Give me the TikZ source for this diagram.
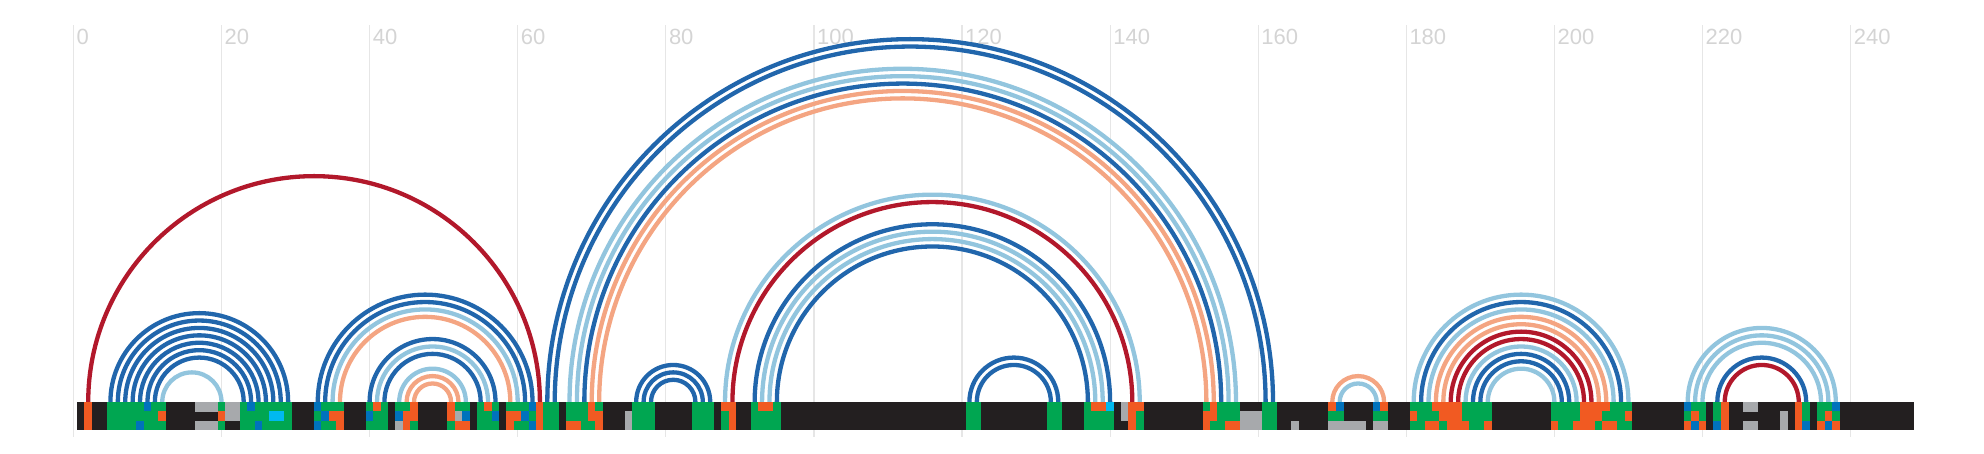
\documentclass[tikz,border=0pt]{standalone}
\usepackage{fontspec}
\setmainfont{Liberation Sans}
\definecolor{cK}{HTML}{231F20}
\definecolor{cG}{HTML}{00A651}
\definecolor{cO}{HTML}{F15A22}
\definecolor{cB}{HTML}{0072BC}
\definecolor{cA}{HTML}{A7A9AC}
\definecolor{cC}{HTML}{00B9F1}
\definecolor{aDB}{HTML}{2166AC}
\definecolor{aLB}{HTML}{92C5DE}
\definecolor{aSA}{HTML}{F4A582}
\definecolor{aRD}{HTML}{B2182B}
\definecolor{gridc}{HTML}{E6E6E6}
\definecolor{labc}{HTML}{D4D4D4}
\newcount\colidx
\def\rowtop{52}
\def\drawcell#1{\if#1K\else\fill[c#1] ({69.55+7.405*\the\colidx},\rowtop) rectangle ++(7.705,-9.6);\fi}
\def\parsechar#1{\ifx#1\relax\else\advance\colidx by 1\relax\drawcell{#1}\expandafter\parsechar\fi}
\def\barrow#1#2{\def\rowtop{#1}\colidx=0\relax\parsechar#2\relax}
\newcommand\arcpair[3]{\draw[#1] ({73.4+7.405*#2},52) arc[start angle=180,end angle=0,radius={3.7025*(#3-#2)}];}
\tikzset{
  gridline/.style={draw=gridc,line width=1.2pt},
  ticklbl/.style={text=labc,anchor=base west,inner sep=0pt,font=\fontsize{22}{22}\selectfont},
  arcbase/.style={line width=4.3pt},
  DB/.style={arcbase,draw=aDB},
  LB/.style={arcbase,draw=aLB},
  SA/.style={arcbase,draw=aSA},
  RD/.style={arcbase,draw=aRD},
}
\begin{document}
\begin{tikzpicture}[x=1pt,y=1pt]
\useasboundingbox (0,0) rectangle (1984,454);
% grid and labels
\foreach \k [evaluate=\k as \v using int(20*\k)] in {0,...,12} {
  \draw[gridline] ({73.4+148.1*\k},17) -- ({73.4+148.1*\k},429);
  \node[ticklbl] (lab\k) at ({76.4+148.1*\k},409.5) {\v};
}
% arcs: group 1
\arcpair{RD}{2}{63}
% group 2
\arcpair{DB}{5}{29}
\arcpair{DB}{6}{28}
\arcpair{DB}{7}{27}
\arcpair{DB}{8}{26}
\arcpair{DB}{9}{25}
\arcpair{DB}{10}{24}
\arcpair{DB}{11}{23}
\arcpair{LB}{12}{20}
% group 3
\arcpair{DB}{33}{62}
\arcpair{DB}{34}{61}
\arcpair{LB}{35}{60}
\arcpair{SA}{36}{59}
\arcpair{DB}{40}{57}
\arcpair{LB}{41}{56}
\arcpair{DB}{42}{55}
\arcpair{LB}{44}{53}
\arcpair{SA}{45}{52}
\arcpair{SA}{46}{51}
% group 4
\arcpair{DB}{64}{162}
\arcpair{DB}{65}{161}
\arcpair{LB}{67}{157}
\arcpair{LB}{68}{156}
\arcpair{DB}{69}{155}
\arcpair{SA}{70}{154}
\arcpair{SA}{71}{153}
% group 5
\arcpair{LB}{88}{144}
\arcpair{RD}{89}{143}
\arcpair{DB}{92}{140}
\arcpair{LB}{93}{139}
\arcpair{LB}{94}{138}
\arcpair{DB}{95}{137}
% group 6
\arcpair{DB}{76}{86}
\arcpair{DB}{77}{85}
\arcpair{DB}{78}{84}
% group 7
\arcpair{DB}{121}{133}
\arcpair{DB}{122}{132}
% group 8
\arcpair{SA}{170}{177}
\arcpair{LB}{171}{176}
% group 9
\arcpair{LB}{181}{210}
\arcpair{DB}{182}{209}
\arcpair{LB}{183}{208}
\arcpair{SA}{184}{207}
\arcpair{SA}{185}{206}
\arcpair{RD}{186}{205}
\arcpair{RD}{187}{204}
\arcpair{LB}{188}{203}
\arcpair{DB}{189}{202}
\arcpair{DB}{190}{201}
\arcpair{LB}{191}{200}
% group 10
\arcpair{LB}{218}{238}
\arcpair{LB}{219}{237}
\arcpair{LB}{220}{236}
\arcpair{DB}{222}{234}
\arcpair{RD}{223}{233}
% bar
\fill[cK] (77.1,24) rectangle (1913.6,52);
\begin{scope}
\clip (77.1,24) rectangle (1913.6,52);
\barrow{52}{KOKKGGGGGB GGKKKKAAAG AAGBGGGGGK KKBGGGKKKG OGKGGOKKKK OGGKGOGKGG GBOGGKGGGO GKKKKGGGKK KKKGGGKOOK KGOOGKKKKK KKKKKKKKKK KKKKKKKKKK GGKKKKKKKK KGGKKKGOOC KAOOKKKKKK KKGOGGGKKK GGKKKKKKKO BKKKKBOKKK GGGOOOOGGG GKKKKKKKKG GGGOOOOGGG KKKKKKKBGG KGOKKAAKKK KKOGKGGBKK KKKKKKKK}
\barrow{42.667}{KOKKGGGGGG GOKKKKKKKO AAGGGGCCGK KKGBOOKKKB GGKBOOKKKK OABKGGBKOO BGOGGKGGGO OKKKAGGGKK KKKGGGKGOK KGGGGKKKKK KKKKKKKKKK KKKKKKKKKK GGKKKKKKKK KGGKKKGGGG KAOGKKKKKK KKOOGGGAAA GGKKKKKKKG GKKKKGGKKK OGGGOOOGGG GKKKKKKKKG GGGOOOGGGO KKKKKKKGOG KGOKKKKKKK AKOGKGOGKK KKKKKKKK}
\barrow{33.333}{KOKKGGGGBG GGKKKKAAAG KKGGBGGGGK KKBGGOKKKG GGKAOGKKKK GOOKGGGKOG GBOGGKOOGG OKKKAGGGKK KKKGGGKGOK KGGGGKKKKK KKKKKKKKKK KKKKKKKKKK GGKKKKKKKK KGGKKKGGGG KKOGKKKKKK KKOGGOOAAA GGKKAKKKKA AAAAKAAKKK GGOOGOOOGG OKKKKKKKKO GGOOOGOOGG KKKKKKKOBO KBOKKAAKKK AKOBKOBOKK KKKKKKKK}
\end{scope}
\end{tikzpicture}
\end{document}
